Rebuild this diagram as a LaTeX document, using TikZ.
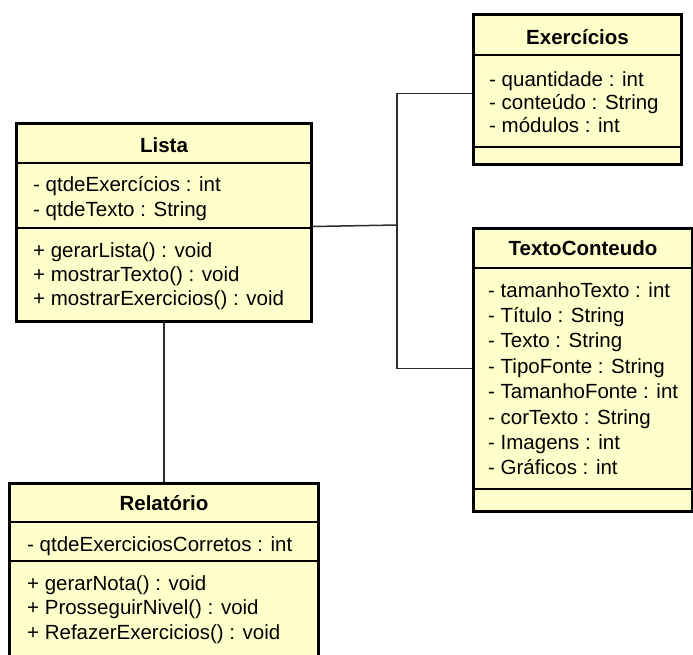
\documentclass[tikz,border=0pt]{standalone}
\usepackage{fontspec}
\setmainfont{Liberation Sans}
\begin{document}
\begin{tikzpicture}[x=1pt,y=-1pt,
  classbox/.style={draw=black,line width=3pt,fill=umlfill,rectangle,inner sep=0pt,anchor=north west},
  compsep/.style={draw=black,line width=1.5pt},
  link/.style={draw=linkgray,line width=1.5pt},
  ctitle/.style={anchor=base,inner sep=0pt,font=\fontsize{20.5}{24}\selectfont\bfseries},
  cline/.style={anchor=base west,inner sep=0pt,font=\fontsize{20.5}{24}\selectfont}]
\definecolor{umlfill}{RGB}{255,255,204}
\definecolor{linkgray}{RGB}{45,45,45}
\clip (0,0) rectangle (693,655);
\useasboundingbox (0,0) rectangle (693,655);
\fill[white] (0,0) rectangle (693,655);

% class boxes
\node[classbox,minimum width=208pt,minimum height=150pt] (exer) at (472,13) {};
\node[classbox,minimum width=295pt,minimum height=198pt] (lista) at (15,122) {};
\node[classbox,minimum width=219pt,minimum height=283pt] (texto) at (472,227) {};
\node[classbox,minimum width=309pt,minimum height=190pt] (rel) at (8,482) {};

% compartment separators
\draw[compsep] (exer.west |- 0,55) -- (exer.east |- 0,55);
\draw[compsep] (exer.west |- 0,147) -- (exer.east |- 0,147);
\draw[compsep] (lista.west |- 0,163) -- (lista.east |- 0,163);
\draw[compsep] (lista.west |- 0,228) -- (lista.east |- 0,228);
\draw[compsep] (texto.west |- 0,268) -- (texto.east |- 0,268);
\draw[compsep] (texto.west |- 0,489) -- (texto.east |- 0,489);
\draw[compsep] (rel.west |- 0,522) -- (rel.east |- 0,522);
\draw[compsep] (rel.west |- 0,561) -- (rel.east |- 0,561);

% titles
\node[ctitle] (exerT) at (exer.center |- 0,45) {Exercícios};
\node[ctitle] (listaT) at (lista.center |- 0,153) {Lista};
\node[ctitle] (textoT) at (texto.center |- 0,255) {TextoConteudo};
\node[ctitle] (relT) at (rel.center |- 0,510) {Relatório};

% attributes and operations
\foreach \t [count=\i] in {- quantidade : int,- conteúdo : String,- módulos : int}
  \node[cline] (exerA\i) at (489,{87+23*(\i-1)}) {\t};
\foreach \t [count=\i] in {- qtdeExercícios : int,- qtdeTexto : String}
  \node[cline] (listaA\i) at (33,{192+24.5*(\i-1)}) {\t};
\foreach \t [count=\i] in {+ gerarLista() : void,+ mostrarTexto() : void,+ mostrarExercicios() : void}
  \node[cline] (listaM\i) at (33,{257+24*(\i-1)}) {\t};
\foreach \t [count=\i] in {- tamanhoTexto : int,- Título : String,- Texto : String,- TipoFonte : String,- TamanhoFonte : int,- corTexto : String,- Imagens : int,- Gráficos : int}
  \node[cline] (textoA\i) at (488,{297+25.4*(\i-1)}) {\t};
\node[cline] (relA1) at (27,551) {- qtdeExerciciosCorretos : int};
\foreach \t [count=\i] in {+ gerarNota() : void,+ ProsseguirNivel() : void,+ RefazerExercicios() : void}
  \node[cline] (relM\i) at (27,{590+24.5*(\i-1)}) {\t};

% associations
\coordinate (junc) at (397,225);
\draw[link] ([yshift=-4pt]lista.east) -- (junc);
\draw[link] (junc) |- ([yshift=-4pt]exer.west);
\draw[link] (junc) |- ([yshift=1.5pt]texto.west);
\draw[link] (lista.south) -- (rel.north);
\end{tikzpicture}
\end{document}
